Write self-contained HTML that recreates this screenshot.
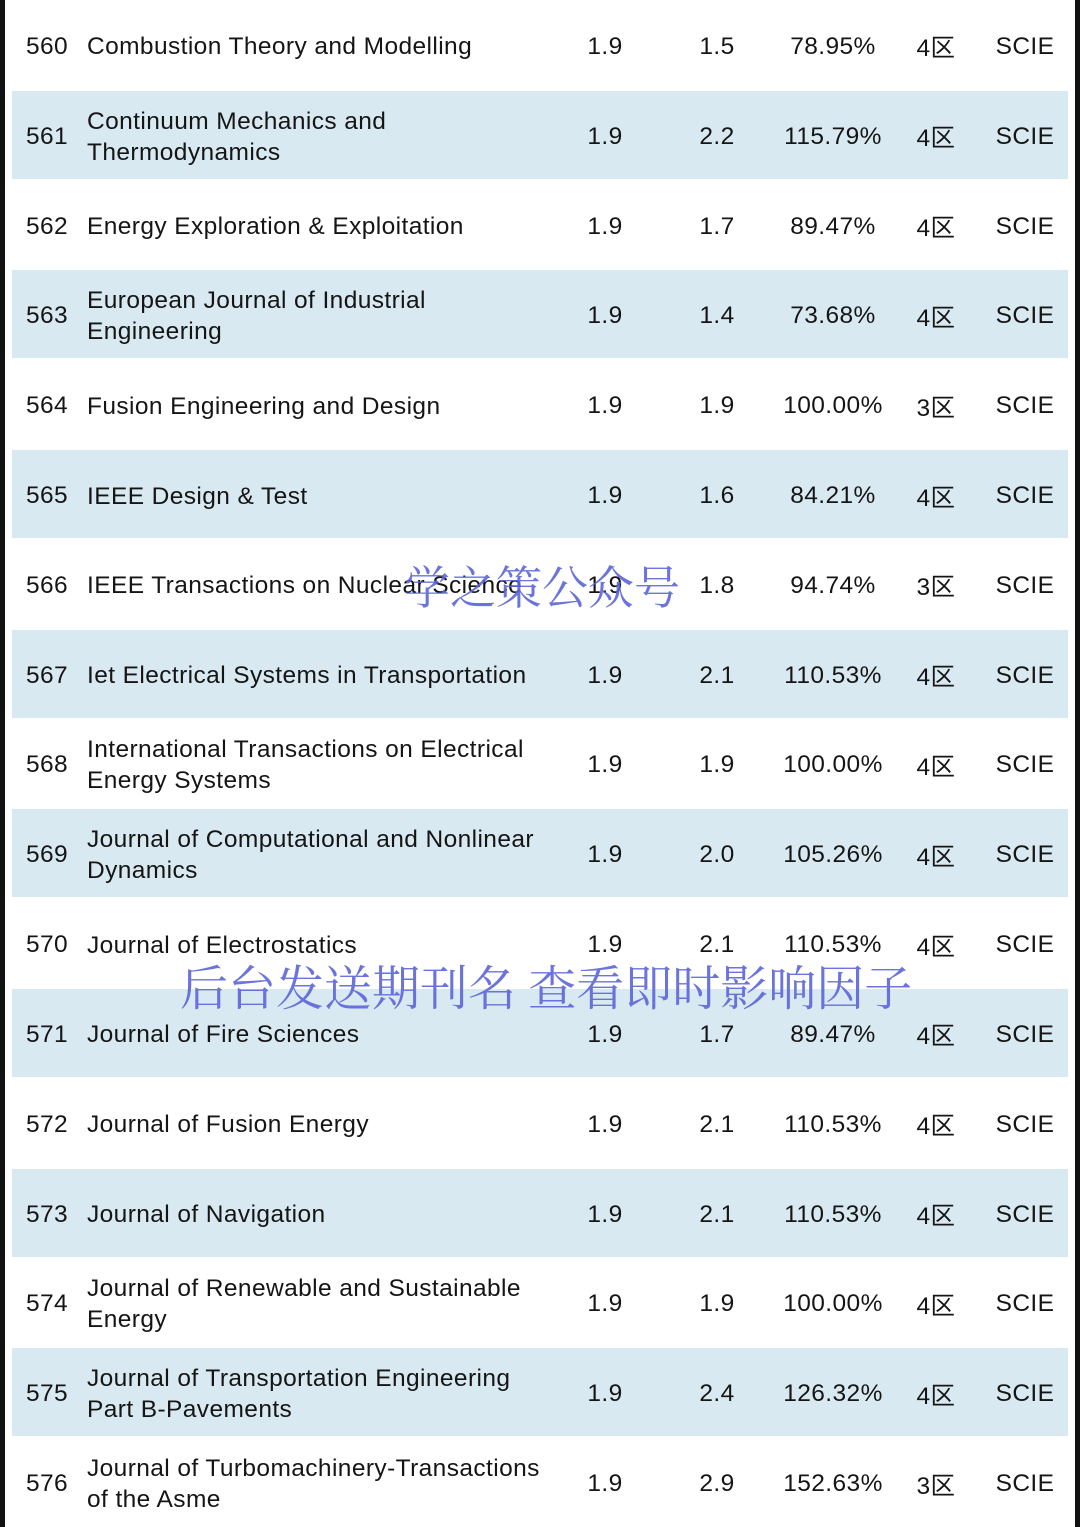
<!DOCTYPE html>
<html><head><meta charset="utf-8">
<style>
html,body{margin:0;padding:0;background:#fff;}
#wrap{position:relative;width:1080px;height:1527px;overflow:hidden;background:#fff;font-family:"Liberation Sans","Noto Sans CJK SC",Arial,sans-serif;color:#151515;font-size:24.5px;letter-spacing:0.4px;}
.bl{position:absolute;left:0;top:0;width:5px;height:1527px;background:#111;}
.br{position:absolute;right:0;top:0;width:5px;height:1527px;background:#111;}
.row{position:absolute;left:12px;width:1056px;}
.band{background:#d9e9f1;}
.c{position:absolute;top:2px;height:100%;display:flex;align-items:center;white-space:nowrap;}
.num{left:14px;}
.title{left:75px;line-height:31px;}
.v{justify-content:center;width:100px;}
.wm{position:absolute;font-family:"Noto Serif CJK SC","WenQuanYi Zen Hei",serif;color:#5c66d8;opacity:.9;font-size:46px;white-space:nowrap;line-height:1;letter-spacing:0;}
</style></head>
<body>
<div id="wrap">
<div class="bl"></div>
<div class="br"></div>
</div>
<script>
const nums=[560,561,562,563,564,565,566,567,568,569,570,571,572,573,574,575,576];
const titles=["Combustion Theory and Modelling","Continuum Mechanics and<br>Thermodynamics","Energy Exploration &amp; Exploitation","European Journal of Industrial<br>Engineering","Fusion Engineering and Design","IEEE Design &amp; Test","IEEE Transactions on Nuclear Science","Iet Electrical Systems in Transportation","International Transactions on Electrical<br>Energy Systems","Journal of Computational and Nonlinear<br>Dynamics","Journal of Electrostatics","Journal of Fire Sciences","Journal of Fusion Energy","Journal of Navigation","Journal of Renewable and Sustainable<br>Energy","Journal of Transportation Engineering<br>Part B-Pavements","Journal of Turbomachinery-Transactions<br>of the Asme"];
const if1=["1.9","1.9","1.9","1.9","1.9","1.9","1.9","1.9","1.9","1.9","1.9","1.9","1.9","1.9","1.9","1.9","1.9"];
const if2=["1.5","2.2","1.7","1.4","1.9","1.6","1.8","2.1","1.9","2.0","2.1","1.7","2.1","2.1","1.9","2.4","2.9"];
const pct=["78.95%","115.79%","89.47%","73.68%","100.00%","84.21%","94.74%","110.53%","100.00%","105.26%","110.53%","89.47%","110.53%","110.53%","100.00%","126.32%","152.63%"];
const zone=["4区","4区","4区","4区","3区","4区","3区","4区","4区","4区","4区","4区","4区","4区","4区","4区","3区"];
const idx=["SCIE","SCIE","SCIE","SCIE","SCIE","SCIE","SCIE","SCIE","SCIE","SCIE","SCIE","SCIE","SCIE","SCIE","SCIE","SCIE","SCIE"];
const wrap=document.getElementById('wrap');
const rh=1527/nums.length;
nums.forEach((n,i)=>{
  const r=document.createElement('div');
  r.className='row'+(i%2===1?' band':'');
  r.style.top=(i*rh+1)+'px';r.style.height=(rh-2)+'px';
  
  
  const cells=[['num',n,0],['title',titles[i],0],['v',if1[i],543],['v',if2[i],655],['v',pct[i],771],['v',zone[i],874],['v',idx[i],963]];
  const names=['rank','journal-title','if-2022','if-2023','growth','zone','index'];
  cells.forEach((c,k)=>{
    const d=document.createElement('div');
    d.className='c '+c[0];
    if(c[2])d.style.left=c[2]+'px';
    d.innerHTML=c[1];
    
    
    r.appendChild(d);
  });
  wrap.appendChild(r);
});
const w1=document.createElement('div');w1.className='wm';w1.style.left='404px';w1.style.top='562px';w1.textContent='学之策公众号';


wrap.appendChild(w1);
const w2=document.createElement('div');w2.className='wm';w2.style.left='180px';w2.style.top='961px';w2.style.fontSize='48px';w2.textContent='后台发送期刊名 查看即时影响因子';


wrap.appendChild(w2);
</script>
</body></html>
